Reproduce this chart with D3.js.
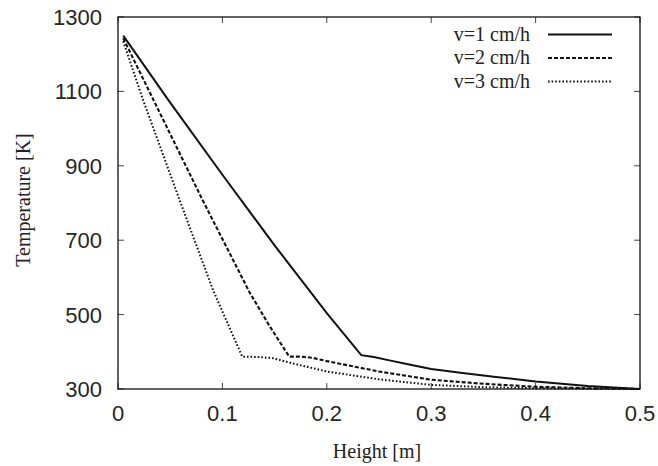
<!DOCTYPE html>
<html>
<head>
    <meta charset="UTF-8">
    <title>Temperature vs Height</title>
    <script src="https://d3js.org/d3.v7.min.js"></script>
    <style>
        body { margin: 0; background: #fff; }
        .tick-label { font-family: "Liberation Sans", Arial, sans-serif; font-size: 22px; fill: #262626; }
        .serif { font-family: "Liberation Serif", "Times New Roman", serif; font-size: 20px; fill: #222; }
    </style>
</head>
<body>
<div id="chart"></div>
<script>
    // 数据
    const xTicks = [0, 0.1, 0.2, 0.3, 0.4, 0.5];
    const yTicks = [300, 500, 700, 900, 1100, 1300];
    const seriesNames = ["v=1 cm/h", "v=2 cm/h", "v=3 cm/h"];

    const h1 = [0.005, 0.05, 0.1, 0.15, 0.2, 0.233, 0.245, 0.26, 0.28, 0.3, 0.33, 0.36, 0.4, 0.45, 0.5];
    const t1 = [1250, 1070, 876, 686, 504, 391, 386, 377, 365, 354, 343, 333, 320, 308, 300];

    const h2 = [0.005, 0.034, 0.081, 0.126, 0.145, 0.164, 0.175, 0.186, 0.2, 0.25, 0.3, 0.35, 0.4, 0.45, 0.5];
    const t2 = [1243, 1077, 808, 560, 470, 387, 387, 384, 375, 347, 325, 314, 306, 302, 300];

    const h3 = [0.005, 0.024, 0.059, 0.091, 0.119, 0.135, 0.148, 0.167, 0.2, 0.25, 0.3, 0.35, 0.4, 0.45, 0.5];
    const t3 = [1235, 1077, 808, 566, 387, 386, 383, 369, 347, 326, 311, 305, 302, 301, 300];

    const width = 658, height = 466;
    const plot = { left: 118, right: 640, top: 17, bottom: 389 };

    const svg = d3.select("#chart").append("svg")
        .attr("width", width)
        .attr("height", height);

    const x = d3.scaleLinear().domain([0, 0.5]).range([plot.left, plot.right]);
    const y = d3.scaleLinear().domain([300, 1300]).range([plot.bottom, plot.top]);

    // 刻度（gnuplot 风格：向内，四边镜像）
    const tickLen = 6;
    const tickG = svg.append("g").attr("stroke", "#444").attr("stroke-width", 1);
    xTicks.forEach(v => {
        tickG.append("line").attr("x1", x(v)).attr("x2", x(v))
            .attr("y1", plot.bottom).attr("y2", plot.bottom - tickLen);
        tickG.append("line").attr("x1", x(v)).attr("x2", x(v))
            .attr("y1", plot.top).attr("y2", plot.top + tickLen);
    });
    yTicks.forEach(v => {
        tickG.append("line").attr("x1", plot.left).attr("x2", plot.left + tickLen)
            .attr("y1", y(v)).attr("y2", y(v));
        tickG.append("line").attr("x1", plot.right).attr("x2", plot.right - tickLen)
            .attr("y1", y(v)).attr("y2", y(v));
    });

    // 刻度标签
    svg.selectAll(".xl").data(xTicks).enter().append("text")
        .attr("class", "tick-label")
        .attr("x", d => x(d))
        .attr("y", 421)
        .attr("text-anchor", "middle")
        .text(d => d3.format("")(d));

    svg.selectAll(".yl").data(yTicks).enter().append("text")
        .attr("class", "tick-label")
        .attr("x", 102)
        .attr("y", d => y(d))
        .attr("dy", "0.36em")
        .attr("text-anchor", "end")
        .text(d => d);

    // 曲线
    const line = d3.line().x(d => x(d[0])).y(d => y(d[1]));
    const styles = [
        { dash: null, w: 2 },
        { dash: "4,2", w: 2.1 },
        { dash: "1.6,2", w: 2 }
    ];
    const series = [d3.zip(h1, t1), d3.zip(h2, t2), d3.zip(h3, t3)];

    series.forEach((s, i) => {
        svg.append("path")
            .datum(s)
            .attr("fill", "none")
            .attr("stroke", "#111")
            .attr("stroke-width", styles[i].w)
            .attr("stroke-dasharray", styles[i].dash)
            .attr("d", line);
    });

    // 边框
    svg.append("rect")
        .attr("x", plot.left).attr("y", plot.top)
        .attr("width", plot.right - plot.left)
        .attr("height", plot.bottom - plot.top)
        .attr("fill", "none")
        .attr("stroke", "#111")
        .attr("stroke-width", 1.3);

    // 图例
    const legendY = [34.5, 58, 81.5];
    seriesNames.forEach((name, i) => {
        svg.append("text")
            .attr("class", "serif")
            .attr("x", 530)
            .attr("y", legendY[i])
            .attr("dy", "0.32em")
            .attr("text-anchor", "end")
            .text(name);
        svg.append("line")
            .attr("x1", 548).attr("x2", 612)
            .attr("y1", legendY[i]).attr("y2", legendY[i])
            .attr("stroke", "#111")
            .attr("stroke-width", styles[i].w)
            .attr("stroke-dasharray", styles[i].dash);
    });

    // 坐标轴标题
    svg.append("text")
        .attr("class", "serif")
        .attr("x", (plot.left + plot.right) / 2 - 2)
        .attr("y", 458)
        .attr("text-anchor", "middle")
        .text("Height [m]");

    svg.append("text")
        .attr("class", "serif")
        .attr("transform", `translate(30,${(plot.top + plot.bottom) / 2 - 3}) rotate(-90)`)
        .attr("text-anchor", "middle")
        .text("Temperature [K]");
</script>
</body>
</html>
